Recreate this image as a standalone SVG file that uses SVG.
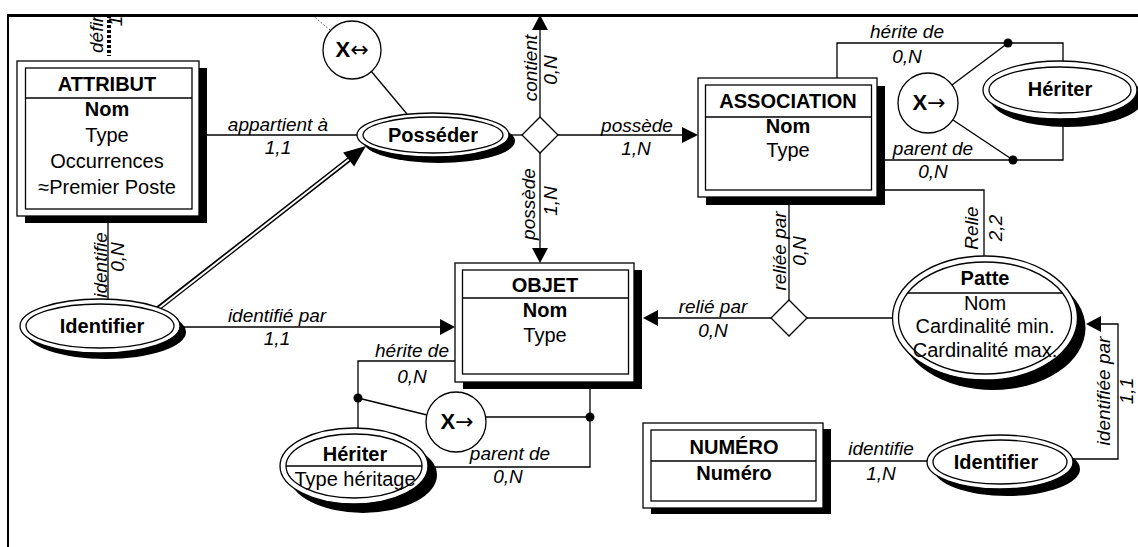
<svg xmlns="http://www.w3.org/2000/svg" width="1138" height="547" viewBox="0 0 1138 547">
<style>
.ln{stroke:#000;stroke-width:1.3;fill:none}
.dbl{stroke:#000;stroke-width:5;fill:none}
.dblw{stroke:#fff;stroke-width:2;fill:none}
.ah{fill:#000;stroke:none}
.dot{fill:#000}
.sh{fill:#000}
.bx{fill:#fff;stroke:#000;stroke-width:1.3}
.t{font-family:"Liberation Sans",Arial,Helvetica,sans-serif;font-size:20px;text-anchor:middle;fill:#000}
.b{font-weight:bold}
.l{font-family:"Liberation Sans",Arial,Helvetica,sans-serif;font-size:19px;font-style:italic;text-anchor:middle;fill:#000}
.arw{font-family:"DejaVu Sans",sans-serif;font-weight:normal;font-size:22px}
</style>
<defs>
<clipPath id="frameclip"><rect x="9" y="16" width="1129" height="531"/></clipPath>
</defs>
<rect x="0" y="0" width="1138" height="547" fill="#fff"/>
<g clip-path="url(#frameclip)">
<g id="connectors">
  <line x1="109" y1="10" x2="109" y2="56" stroke="#000" stroke-width="4" stroke-dasharray="3 2"/>
  <text class="l" style="text-anchor:start" transform="translate(103,53) rotate(-90)">défin</text>
  <text class="l" transform="translate(122,21) rotate(-90)">1</text>
  <line x1="330" y1="30" x2="305" y2="9" stroke="#444" stroke-width="1" stroke-dasharray="1.5 2"/>
  <line class="ln" x1="371" y1="71" x2="407" y2="114"/>
  <line class="ln" x1="199" y1="135" x2="360" y2="135"/>
  <text class="l" x="278" y="131">appartient à</text>
  <text class="l" x="278" y="154">1,1</text>
  <line class="ln" x1="108" y1="216" x2="108" y2="300"/>
  <text class="l" transform="translate(107,265) rotate(-90)">identifie</text>
  <text class="l" transform="translate(124,257) rotate(-90)">0,N</text>
  <line class="ln" x1="178" y1="327" x2="442" y2="327"/>
  <polygon class="ah" points="455,327 440,319 440,335"/>
  <text class="l" x="277" y="322">identifié par</text>
  <text class="l" x="277" y="345">1,1</text>
  <line class="dbl" x1="156" y1="310" x2="351" y2="158"/>
  <line class="dblw" x1="154" y1="312" x2="352" y2="157"/>
  <polygon class="ah" points="366,146 354.1,166.6 343.1,152.4"/>
  <line class="ln" x1="505" y1="135" x2="522" y2="135"/>
  <polygon points="540,117 558,135 540,153 522,135" fill="#fff" stroke="#000" stroke-width="1.3"/>
  <line class="ln" x1="540" y1="117" x2="540" y2="29"/>
  <polygon class="ah" points="540,15 532,30 548,30"/>
  <text class="l" transform="translate(537,68) rotate(-90)">contient</text>
  <text class="l" transform="translate(557,70) rotate(-90)">0,N</text>
  <line class="ln" x1="540" y1="153" x2="540" y2="249"/>
  <polygon class="ah" points="540,263 532,248 548,248"/>
  <text class="l" transform="translate(535,204) rotate(-90)">possède</text>
  <text class="l" transform="translate(557,201) rotate(-90)">1,N</text>
  <line class="ln" x1="558" y1="135" x2="684" y2="135"/>
  <polygon class="ah" points="698,135 682,127 682,143"/>
  <text class="l" x="637" y="132">possède</text>
  <text class="l" x="636" y="155">1,N</text>
  <polyline class="ln" points="837,80 837,43 1063,43 1063,63"/>
  <polyline class="ln" points="875,160 1063,160 1063,117"/>
  <circle class="dot" cx="1008" cy="43" r="4.5"/>
  <circle class="dot" cx="1013" cy="160" r="4.5"/>
  <line class="ln" x1="952" y1="85" x2="1008" y2="43"/>
  <line class="ln" x1="953" y1="120" x2="1013" y2="160"/>
  <text class="l" x="907" y="38">hérite de</text>
  <text class="l" x="907" y="63">0,N</text>
  <text class="l" x="933" y="155">parent de</text>
  <text class="l" x="933" y="178">0,N</text>
  <polyline class="ln" points="875,190 984,190 984,258"/>
  <text class="l" transform="translate(978,228) rotate(-90)">Relie</text>
  <text class="l" transform="translate(1002,228) rotate(-90)">2,2</text>
  <line class="ln" x1="789" y1="197" x2="789" y2="300"/>
  <text class="l" transform="translate(786,251) rotate(-90)">reliée par</text>
  <text class="l" transform="translate(806,251) rotate(-90)">0,N</text>
  <polygon points="789,300 807,318 789,336 771,318" fill="#fff" stroke="#000" stroke-width="1.3"/>
  <line class="ln" x1="894" y1="318" x2="807" y2="318"/>
  <line class="ln" x1="771" y1="318" x2="656" y2="318"/>
  <polygon class="ah" points="643,318 658,310 658,326"/>
  <text class="l" x="713" y="313">relié par</text>
  <text class="l" x="713" y="337">0,N</text>
  <polyline class="ln" points="457,361 358,361 358,430"/>
  <circle class="dot" cx="358" cy="398" r="4.5"/>
  <line class="ln" x1="358" y1="398" x2="427" y2="415"/>
  <line class="ln" x1="485" y1="417" x2="590" y2="417"/>
  <circle class="dot" cx="590" cy="417" r="4.5"/>
  <polyline class="ln" points="590,382 590,467 426,467"/>
  <text class="l" x="412" y="357">hérite de</text>
  <text class="l" x="412" y="383">0,N</text>
  <text class="l" x="510" y="460">parent de</text>
  <text class="l" x="508" y="483">0,N</text>
  <line class="ln" x1="823" y1="461" x2="929" y2="461"/>
  <text class="l" x="881" y="455">identifie</text>
  <text class="l" x="881" y="480">1,N</text>
  <polyline class="ln" points="1071,459 1118,459 1118,324 1100,324"/>
  <polygon class="ah" points="1086,324 1101,316 1101,332"/>
  <text class="l" transform="translate(1110,391) rotate(-90)">identifiée par</text>
  <text class="l" transform="translate(1133,391) rotate(-90)">1,1</text>
</g>

<g id="attribut">
  <rect class="sh" x="25" y="68" width="182" height="155"/>
  <rect class="bx" x="17" y="61" width="182" height="155"/>
  <rect class="bx" x="25.5" y="68" width="166.5" height="141"/>
  <line class="ln" x1="25.5" y1="98" x2="192" y2="98"/>
  <text class="t b" x="107" y="91">ATTRIBUT</text>
  <text class="t b" x="107" y="116">Nom</text>
  <text class="t" x="107" y="142">Type</text>
  <text class="t" x="107" y="168">Occurrences</text>
  <text class="t" x="107" y="194">≈Premier Poste</text>
</g>

<g id="association">
  <rect class="sh" x="706" y="86" width="179" height="119"/>
  <rect class="bx" x="698" y="78" width="179" height="119"/>
  <rect class="bx" x="705.5" y="85" width="166" height="105"/>
  <line class="ln" x1="705.5" y1="117" x2="871.5" y2="117"/>
  <text class="t b" x="788" y="108">ASSOCIATION</text>
  <text class="t b" x="788" y="133">Nom</text>
  <text class="t" x="788" y="157">Type</text>
</g>

<g id="objet">
  <rect class="sh" x="463" y="270" width="179" height="119"/>
  <rect class="bx" x="455" y="263" width="179" height="119"/>
  <rect class="bx" x="462.5" y="270" width="166" height="104"/>
  <line class="ln" x1="462.5" y1="298" x2="628.5" y2="298"/>
  <text class="t b" x="545" y="292">OBJET</text>
  <text class="t b" x="545" y="317">Nom</text>
  <text class="t" x="545" y="342">Type</text>
</g>

<g id="numero">
  <rect class="sh" x="651" y="429" width="180" height="85"/>
  <rect class="bx" x="643" y="423" width="180" height="85"/>
  <rect class="bx" x="651" y="430" width="165" height="71"/>
  <line class="ln" x1="651" y1="461" x2="816" y2="461"/>
  <text class="t b" x="734" y="454">NUMÉRO</text>
  <text class="t b" x="734" y="480">Numéro</text>
</g>

<g id="posseder">
  <ellipse class="sh" cx="439" cy="141" rx="76" ry="22"/>
  <ellipse class="bx" cx="433" cy="135" rx="76" ry="22"/>
  <ellipse class="bx" cx="433" cy="135" rx="70" ry="18"/>
  <text class="t b" x="433" y="142">Posséder</text>
</g>

<g id="identifier-attribut">
  <ellipse class="sh" cx="106" cy="332" rx="80" ry="27"/>
  <ellipse class="bx" cx="100" cy="326" rx="80" ry="27"/>
  <ellipse class="bx" cx="100" cy="326" rx="74" ry="22"/>
  <text class="t b" x="102" y="333">Identifier</text>
</g>

<g id="heriter-association">
  <ellipse class="sh" cx="1067" cy="98" rx="77" ry="29"/>
  <ellipse class="bx" cx="1060" cy="90" rx="77" ry="29"/>
  <ellipse class="bx" cx="1060" cy="90" rx="71" ry="23"/>
  <text class="t b" x="1060" y="96">Hériter</text>
</g>

<g id="patte">
  <ellipse class="sh" cx="993" cy="328" rx="92.5" ry="62"/>
  <ellipse class="bx" cx="985" cy="318" rx="92.5" ry="62"/>
  <ellipse class="bx" cx="985" cy="318" rx="86.5" ry="56"/>
  <line class="ln" x1="907.6" y1="293" x2="1062.4" y2="293"/>
  <text class="t b" x="985" y="285">Patte</text>
  <text class="t" x="985" y="310">Nom</text>
  <text class="t" x="985" y="333">Cardinalité min.</text>
  <text class="t" x="985" y="357">Cardinalité max.</text>
</g>

<g id="heriter-objet">
  <ellipse class="sh" cx="363" cy="475" rx="74" ry="38"/>
  <ellipse class="bx" cx="354" cy="466" rx="74" ry="38"/>
  <ellipse class="bx" cx="354" cy="466" rx="68" ry="32"/>
  <line class="ln" x1="286" y1="466" x2="422" y2="466"/>
  <text class="t b" x="355" y="461">Hériter</text>
  <text class="t" x="355" y="486">Type héritage</text>
</g>

<g id="identifier-numero">
  <ellipse class="sh" cx="1007" cy="469" rx="73" ry="27"/>
  <ellipse class="bx" cx="1000" cy="462" rx="73" ry="27"/>
  <ellipse class="bx" cx="1000" cy="462" rx="67" ry="22"/>
  <text class="t b" x="996" y="469">Identifier</text>
</g>

<g id="x-exclusion-posseder">
  <circle class="bx" cx="352" cy="50" r="29"/>
  <text class="t" x="352" y="57" style="font-size:22px"><tspan font-weight="bold">X</tspan><tspan class="arw">↔</tspan></text>
</g>

<g id="x-exclusion-association">
  <circle class="bx" cx="928" cy="103" r="30"/>
  <text class="t" x="929" y="110" style="font-size:22px"><tspan font-weight="bold">X</tspan><tspan class="arw">→</tspan></text>
</g>

<g id="x-exclusion-objet">
  <circle class="bx" cx="456" cy="422" r="30"/>
  <text class="t" x="457" y="429" style="font-size:22px"><tspan font-weight="bold">X</tspan><tspan class="arw">→</tspan></text>
</g>
</g>

<g id="frame">
  <line x1="7" y1="15.5" x2="1138" y2="15.5" stroke="#000" stroke-width="3"/>
  <line x1="8" y1="15" x2="8" y2="547" stroke="#000" stroke-width="2"/>
</g>
</svg>
